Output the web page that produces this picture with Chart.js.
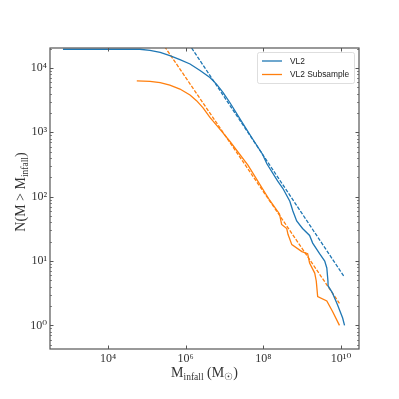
<!DOCTYPE html>
<html>
<head>
<meta charset="utf-8">
<script src="https://cdn.jsdelivr.net/npm/chart.js@4.4.1/dist/chart.umd.min.js"></script>
<style>
  html, body { margin: 0; padding: 0; background: #fff; }
  #wrap { width: 399px; height: 399px; }
</style>
</head>
<body>
<div id="wrap"><canvas id="c" width="399" height="399"></canvas></div>
<script>
// ---- Data ----
const vl2Mass = [6.9e2, 3.7e4, 6.6e4, 1.2e5, 2.2e5, 3.9e5, 7.1e5, 1.29e6, 2.34e6, 4.2e6, 6.2e6, 9.1e6, 1.38e7, 3.0e7, 5.0e7, 9.5e7, 1.23e8, 2.34e8, 3.16e8, 4.8e8, 5.75e8, 7.2e8, 1.02e9, 1.55e9, 1.86e9, 2.8e9, 3.8e9, 4.3e9, 4.6e9, 4.65e9, 6.0e9, 8.1e9, 1.1e10, 1.23e10];
const vl2N    = [19500, 19500, 19500, 18800, 17400, 15500, 13500, 11500, 9100, 7100, 5600, 4170, 2880, 1350, 830, 457, 324, 174, 135, 85, 60, 42, 32, 25, 19, 13, 10, 7.8, 4.9, 4.1, 3.2, 2.1, 1.3, 1];

const subMass = [5.5e4, 1.2e5, 2.2e5, 3.9e5, 7.1e5, 1.29e6, 1.9e6, 2.8e6, 4.2e6, 6.2e6, 9.1e6, 1.38e7, 4.0e7, 1.45e8, 2.6e8, 2.95e8, 4.0e8, 4.3e8, 5.4e8, 9.8e8, 1.38e9, 1.55e9, 2.1e9, 2.3e9, 2.5e9, 4.3e9, 6.0e9, 9.1e9];
const subN    = [6300, 6200, 5900, 5400, 4700, 3800, 3100, 2400, 1700, 1290, 980, 720, 310, 88, 54, 37, 32, 26, 18, 14, 13, 9.3, 6.5, 4.9, 2.8, 2.4, 1.66, 1];

const vl2FitMass = [1.0e6, 1.23e10];
const vl2FitN    = [2.8e4, 5.6];
const subFitMass = [2.0e5, 9.1e9];
const subFitN    = [2.95e4, 2.2];

const seriesLabels = ['VL2', 'VL2 Subsample'];
const xTickValues = [1e4, 1e6, 1e8, 1e10];
const yTickValues = [1, 10, 100, 1000, 10000];
const xRange = [3.2e2, 2.9e10];
const yRange = [0.43, 20400];

const BLUE = '#1f77b4', ORANGE = '#ff7f0e';
const SERIF = '"Liberation Serif", "DejaVu Serif", serif';

function pts(xs, ys) { return xs.map((x, i) => ({ x: x, y: ys[i] })); }
const SUP = { '0': '\u2070', '1': '\u00b9', '2': '\u00b2', '3': '\u00b3', '4': '\u2074', '5': '\u2075', '6': '\u2076', '7': '\u2077', '8': '\u2078', '9': '\u2079' };
function powLabel(v) {
  const e = String(Math.round(Math.log10(v)));
  return '10' + e.split('').map(c => SUP[c]).join('');
}

// draw text with a subscript part: parts = [[text, isSub], ...]
function drawParts(ctx, parts, x, y, size, subSize, subDrop) {
  let w = 0;
  parts.forEach(p => { ctx.font = (p[1] ? subSize : size) + 'px ' + SERIF; w += ctx.measureText(p[0]).width; });
  let cx = x - w / 2;
  parts.forEach(p => {
    ctx.font = (p[1] ? subSize : size) + 'px ' + SERIF;
    ctx.fillText(p[0], cx, y + (p[1] ? subDrop : 0));
    cx += ctx.measureText(p[0]).width;
  });
}

const framePlugin = {
  id: 'frame',
  afterDatasetsDraw(chart) {
    const ctx = chart.ctx, a = chart.chartArea;
    const xs = chart.scales.x, ys = chart.scales.y;
    ctx.save();
    ctx.strokeStyle = '#555';
    ctx.lineWidth = 1;
    // inward ticks
    ctx.beginPath();
    xTickValues.forEach(v => {
      const px = Math.round(xs.getPixelForValue(v)) + 0.5;
      ctx.moveTo(px, a.bottom); ctx.lineTo(px, a.bottom - 3.5);
      ctx.moveTo(px, a.top); ctx.lineTo(px, a.top + 3.5);
    });
    yTickValues.forEach(v => {
      const py = Math.round(ys.getPixelForValue(v)) + 0.5;
      ctx.moveTo(a.left, py); ctx.lineTo(a.left + 3.5, py);
      ctx.moveTo(a.right, py); ctx.lineTo(a.right - 3.5, py);
    });
    ctx.stroke();
    ctx.beginPath();
    ctx.lineWidth = 0.7;
    for (let d = -1; d <= 4; d++) {
      for (let k = 2; k <= 9; k++) {
        const v = k * Math.pow(10, d);
        if (v < yRange[0] || v > yRange[1]) continue;
        const py = Math.round(ys.getPixelForValue(v)) + 0.5;
        ctx.moveTo(a.left, py); ctx.lineTo(a.left + 2, py);
        ctx.moveTo(a.right, py); ctx.lineTo(a.right - 2, py);
      }
    }
    ctx.stroke();
    // frame
    ctx.lineWidth = 1.2;
    ctx.strokeStyle = '#555';
    ctx.strokeRect(a.left, a.top, a.right - a.left, a.bottom - a.top);

    // legend
    const lx = 257, ly = 52, lw = 97, lh = 31;
    ctx.fillStyle = 'rgba(255,255,255,0.85)';
    ctx.strokeStyle = '#d6d6d6';
    ctx.lineWidth = 0.8;
    ctx.beginPath();
    if (ctx.roundRect) ctx.roundRect(lx + 0.5, ly + 0.5, lw, lh, 2); else ctx.rect(lx + 0.5, ly + 0.5, lw, lh);
    ctx.fill(); ctx.stroke();
    const legendSets = chart.data.datasets.filter(d => d.inLegend);
    legendSets.forEach((d, i) => {
      const yy = 61 + i * 13.5;
      ctx.strokeStyle = d.borderColor;
      ctx.lineWidth = 1.3;
      ctx.beginPath(); ctx.moveTo(262, yy); ctx.lineTo(282, yy); ctx.stroke();
      ctx.fillStyle = '#222';
      ctx.font = '8.4px "Liberation Sans", "DejaVu Sans", sans-serif';
      ctx.textBaseline = 'middle';
      ctx.textAlign = 'left';
      ctx.fillText(d.label, 290, yy + 0.5);
    });

    // axis titles
    ctx.fillStyle = '#333';
    ctx.textBaseline = 'alphabetic';
    ctx.textAlign = 'left';
    drawParts(ctx, [['M', false], ['infall', true], [' (M', false], ['\u2609', true], [')', false]], (a.left + a.right) / 2, 377, 14, 9.5, 3);
    ctx.save();
    ctx.translate(25, 192);
    ctx.rotate(-Math.PI / 2);
    drawParts(ctx, [['N(M > M', false], ['infall', true], [')', false]], 0, 0, 14, 9.5, 3);
    ctx.restore();
    ctx.restore();
  }
};

const lineDs = (label, data, color, dashed, inLegend) => ({
  label: label, data: data, borderColor: color, backgroundColor: color,
  borderWidth: 1.3, borderDash: dashed ? [3.7, 1.6] : [], pointRadius: 0,
  showLine: true, fill: false, tension: 0, inLegend: inLegend
});

new Chart(document.getElementById('c'), {
  type: 'scatter',
  data: {
    datasets: [
      lineDs(seriesLabels[0], pts(vl2Mass, vl2N), BLUE, false, true),
      lineDs(seriesLabels[1], pts(subMass, subN), ORANGE, false, true),
      lineDs(seriesLabels[0] + ' fit', pts(vl2FitMass, vl2FitN), BLUE, true, false),
      lineDs(seriesLabels[1] + ' fit', pts(subFitMass, subFitN), ORANGE, true, false)
    ]
  },
  options: {
    responsive: false,
    animation: false,
    devicePixelRatio: 1,
    layout: { padding: { left: 0, top: 48, right: 40, bottom: 0 } },
    plugins: { legend: { display: false }, tooltip: { enabled: false } },
    scales: {
      x: {
        type: 'logarithmic', min: xRange[0], max: xRange[1],
        afterBuildTicks: s => { s.ticks = xTickValues.map(v => ({ value: v })); },
        afterFit: s => { s.height = 50; },
        grid: { display: false, drawTicks: false },
        border: { display: false },
        ticks: { callback: v => powLabel(v), font: { family: SERIF, size: 12 }, color: '#333', padding: 3, maxRotation: 0, autoSkip: false }
      },
      y: {
        type: 'logarithmic', min: yRange[0], max: yRange[1],
        afterBuildTicks: s => { s.ticks = yTickValues.map(v => ({ value: v })); },
        afterFit: s => { s.width = 50; },
        grid: { display: false, drawTicks: false },
        border: { display: false },
        ticks: { callback: v => powLabel(v), font: { family: SERIF, size: 12 }, color: '#333', padding: 3, autoSkip: false }
      }
    }
  },
  plugins: [framePlugin]
});
</script>
</body>
</html>
